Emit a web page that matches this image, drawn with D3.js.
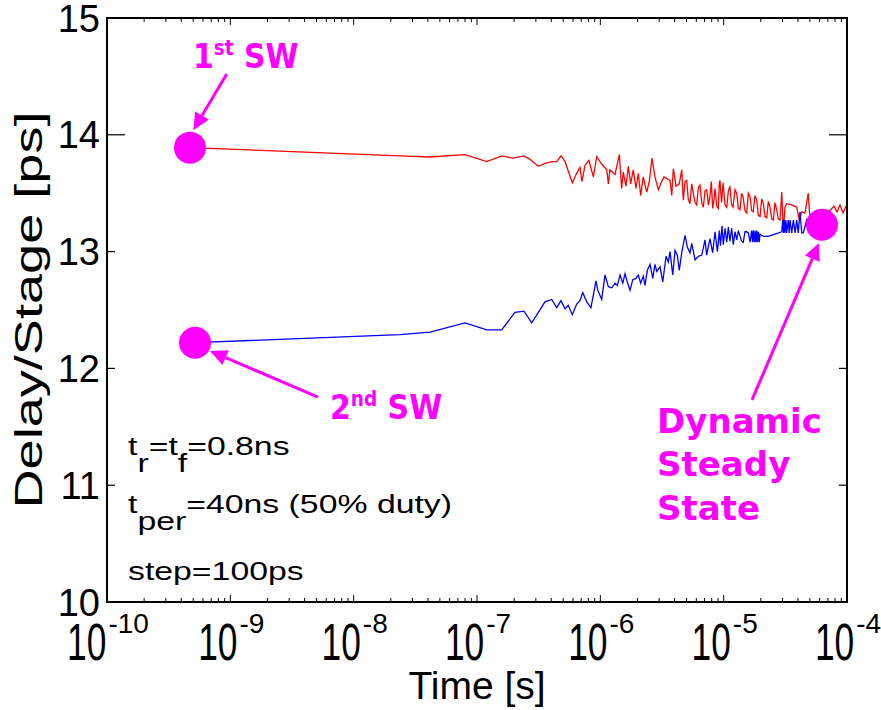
<!DOCTYPE html>
<html>
<head>
<meta charset="utf-8">
<script src="https://cdn.jsdelivr.net/npm/d3@7"></script>
<style>
  body { margin: 0; background: #fff; }
  svg { display: block; font-family: "Liberation Sans", Arial, sans-serif; }
</style>
</head>
<body>
<div id="chart"></div>
<script>
const width = 881, height = 710;
const plot = {left: 107, right: 847, top: 18, bottom: 602};

// x axis decades (log10 of time in s) and y ticks (ps)
const xDecades = [-10, -9, -8, -7, -6, -5, -4];
const yTicks = [10, 11, 12, 13, 14, 15];

// 1st switching event trace (red): log10(time), delay per stage
const redLogT = [-9.327, -7.624, -7.381, -7.097, -6.921, -6.800, -6.708, -6.619, -6.570, -6.505,
  -6.435, -6.394, -6.354, -6.319, -6.286, -6.227, -6.192, -6.165, -6.149, -6.124,
  -6.092, -6.057, -6.029, -5.989, -5.948, -5.935, -5.922, -5.881, -5.846, -5.827,
  -5.814, -5.792, -5.773, -5.754, -5.733, -5.711, -5.692, -5.673, -5.652, -5.624,
  -5.603, -5.581, -5.557, -5.530, -5.502, -5.484, -5.435, -5.421, -5.408, -5.386,
  -5.360, -5.340,
  -5.327, -5.313, -5.300, -5.287, -5.273, -5.259, -5.246, -5.232, -5.219, -5.205,
  -5.192, -5.178, -5.165, -5.151, -5.137, -5.124, -5.111, -5.100, -5.089, -5.078,
  -5.070, -5.056, -5.043, -5.036, -5.030, -5.017, -5.005, -4.989, -4.975, -4.962,
  -4.949, -4.936, -4.924, -4.908, -4.894, -4.881, -4.867, -4.855, -4.843, -4.827,
  -4.813, -4.800, -4.786, -4.773, -4.760, -4.746, -4.732, -4.719, -4.705, -4.692,
  -4.678, -4.665, -4.651, -4.638, -4.624, -4.610, -4.597, -4.584, -4.570, -4.557,
  -4.543, -4.529, -4.516, -4.503, -4.489, -4.448, -4.408, -4.387, -4.367, -4.341,
  -4.314, -4.300, -4.251, -4.203, -4.138, -4.106, -4.081, -4.057, -4.032, -4.008];
const redDelay = [13.89, 13.82, 13.81, 13.83, 13.77, 13.82, 13.80, 13.82, 13.79, 13.73,
  13.76, 13.77, 13.77, 13.82, 13.77, 13.59, 13.67, 13.72, 13.60, 13.74,
  13.78, 13.64, 13.81, 13.75, 13.70, 13.58, 13.70, 13.66, 13.83, 13.54,
  13.68, 13.56, 13.73, 13.58, 13.70, 13.54, 13.67, 13.48, 13.64, 13.51,
  13.60, 13.80, 13.64, 13.53, 13.60, 13.64, 13.61, 13.48, 13.71, 13.56,
  13.58, 13.70,
  13.44, 13.60, 13.61, 13.45, 13.41, 13.58, 13.50, 13.42, 13.40, 13.55,
  13.57, 13.42, 13.38, 13.52, 13.53, 13.40, 13.47, 13.60, 13.37, 13.45,
  13.54, 13.39, 13.37, 13.58, 13.61, 13.42, 13.59, 13.40, 13.38, 13.52,
  13.56, 13.40, 13.38, 13.53, 13.50, 13.37, 13.36, 13.50, 13.47, 13.35,
  13.33, 13.50, 13.47, 13.35, 13.34, 13.48, 13.44, 13.31, 13.30, 13.45,
  13.41, 13.30, 13.29, 13.43, 13.38, 13.28, 13.27, 13.42, 13.36, 13.28,
  13.27, 13.51, 13.17, 13.38, 13.41, 13.40, 13.38, 13.27, 13.34, 13.33,
  13.50, 13.27, 13.34, 13.32, 13.35, 13.39, 13.34, 13.40, 13.33, 13.39];

// 2nd switching event trace (blue)
const blueLogT = [-9.286, -7.624, -7.381, -7.097, -6.921, -6.800, -6.692, -6.619, -6.556, -6.449,
  -6.394, -6.354, -6.319, -6.286, -6.260, -6.227, -6.192, -6.165, -6.143, -6.110,
  -6.076, -6.035, -6.021, -5.989, -5.962, -5.935, -5.908, -5.881, -5.862, -5.840,
  -5.818, -5.800, -5.781, -5.759, -5.737, -5.711, -5.692, -5.673, -5.652, -5.638,
  -5.619, -5.597, -5.575, -5.557, -5.543, -5.516, -5.494, -5.467, -5.449, -5.435,
  -5.413, -5.394, -5.376, -5.360, -5.340, -5.313, -5.295, -5.273, -5.259, -5.232,
  -5.205, -5.178, -5.151, -5.138, -5.111, -5.089, -5.070, -5.051, -5.035,
  -5.026, -5.013, -5.003, -4.989, -4.975, -4.962, -4.949, -4.935, -4.922, -4.908,
  -4.894, -4.881, -4.867, -4.854, -4.841, -4.827, -4.813, -4.800, -4.786, -4.773,
  -4.766, -4.760, -4.752, -4.746, -4.739, -4.732, -4.726, -4.719, -4.712, -4.705,
  -4.678, -4.638, -4.584, -4.529, -4.521, -4.515, -4.508, -4.503, -4.495, -4.489,
  -4.476, -4.469, -4.462, -4.448, -4.435, -4.421, -4.408, -4.395, -4.381, -4.367,
  -4.354, -4.327, -4.300, -4.273, -4.246, -4.203];
const blueDelay = [12.22, 12.29, 12.31, 12.39, 12.33, 12.33, 12.48, 12.49, 12.39, 12.57,
  12.59, 12.52, 12.58, 12.51, 12.54, 12.46, 12.55, 12.58, 12.65, 12.57,
  12.52, 12.75, 12.67, 12.59, 12.80, 12.70, 12.69, 12.73, 12.71, 12.80,
  12.73, 12.81, 12.74, 12.67, 12.76, 12.77, 12.80, 12.73, 12.79, 12.71,
  12.84, 12.89, 12.77, 12.89, 12.83, 12.87, 12.74, 12.96, 12.91, 13.00,
  12.80, 13.01, 12.97, 12.84, 12.99, 13.14, 13.04, 12.99, 13.07, 12.93,
  12.96, 12.97, 13.10, 12.97, 13.11, 12.99, 13.17, 13.00, 13.18,
  13.05, 13.22, 13.06, 13.20, 13.08, 13.21, 13.09, 13.20, 13.06, 13.17,
  13.10, 13.18, 13.13, 13.09, 13.08, 13.17, 13.17, 13.16, 13.08, 13.18,
  13.08, 13.18, 13.08, 13.18, 13.08, 13.18, 13.08, 13.17, 13.08, 13.15,
  13.13, 13.13, 13.15, 13.17, 13.27, 13.16, 13.27, 13.16, 13.27, 13.16,
  13.27, 13.16, 13.27, 13.16, 13.27, 13.16, 13.27, 13.16, 13.34, 13.16,
  13.16, 13.27, 13.17, 13.26, 13.27, 13.23];

// highlighted points: 1st SW, 2nd SW, dynamic steady state
const markerLogT = [-9.327, -9.286, -4.203];
const markerDelay = [13.89, 12.22, 13.23];

// annotation arrows (data units): start -> tip
const arrowFromLogT = [-9.029, -8.289, -4.770];
const arrowFromDelay = [14.52, 11.755, 11.73];
const arrowToLogT = [-9.300, -9.165, -4.227];
const arrowToDelay = [14.04, 12.149, 13.074];

const svg = d3.select("#chart")
  .append("svg")
  .attr("width", width)
  .attr("height", height);

const x = d3.scaleLog().domain([1e-10, 1e-4]).range([plot.left, plot.right]);
const y = d3.scaleLinear().domain([10, 15]).range([plot.bottom, plot.top]);

// frame
svg.append("rect")
  .attr("x", plot.left).attr("y", plot.top)
  .attr("width", plot.right - plot.left).attr("height", plot.bottom - plot.top)
  .attr("fill", "none").attr("stroke", "#000").attr("stroke-width", 2);

// x ticks top & bottom, pointing in
const isMajor = t => Math.abs(Math.log10(t) - Math.round(Math.log10(t))) < 1e-6;
const xt = x.ticks();
svg.append("g").selectAll("line")
  .data(xt.concat(xt.map(t => -t)))
  .enter().append("line")
  .attr("x1", d => x(Math.abs(d))).attr("x2", d => x(Math.abs(d)))
  .attr("y1", d => d > 0 ? plot.bottom : plot.top)
  .attr("y2", d => {
    const len = isMajor(Math.abs(d)) ? 7 : 4;
    return d > 0 ? plot.bottom - len : plot.top + len;
  })
  .attr("stroke", "#000").attr("stroke-width", 1);

// y ticks left & right (the 14 ps tick is drawn longer in the original)
yTicks.forEach(v => {
  const len = v === 14 ? 18 : 8;
  [[plot.left, len], [plot.right, -len]].forEach(([x0, l]) => {
    svg.append("line")
      .attr("x1", x0).attr("x2", x0 + l)
      .attr("y1", y(v)).attr("y2", y(v))
      .attr("stroke", "#000").attr("stroke-width", 1.2);
  });
});

// y tick labels
svg.append("g").selectAll("text")
  .data(yTicks)
  .enter().append("text")
  .attr("x", plot.left - 7)
  .attr("y", d => y(d) + 13.5)
  .attr("text-anchor", "end")
  .attr("font-size", 38)
  .text(d => d);

// x tick labels: 10^n with tall base
xDecades.forEach(p => {
  const g = svg.append("g").attr("transform", `translate(${x(Math.pow(10, p))},0)`);
  const base = g.append("text").attr("font-size", 52).text("10");
  const ex = g.append("text").attr("font-size", 28).attr("y", 633).text(p);
  const bw = base.node().getComputedTextLength() * 0.68;
  const ew = ex.node().getComputedTextLength();
  const x0 = -(bw + ew) / 2;
  base.attr("transform", `translate(${x0},660) scale(0.68,1)`);
  ex.attr("x", x0 + bw + 2);
});

// axis titles
svg.append("text")
  .attr("x", (plot.left + plot.right) / 2).attr("y", 699)
  .attr("text-anchor", "middle")
  .attr("font-size", 39)
  .text("Time [s]");

svg.append("text")
  .attr("transform", `translate(42,${(plot.top + plot.bottom) / 2}) rotate(-90)`)
  .attr("text-anchor", "middle")
  .attr("font-size", 39)
  .attr("textLength", 397)
  .attr("lengthAdjust", "spacingAndGlyphs")
  .text("Delay/Stage [ps]");

// traces
const line = d3.line()
  .x(d => x(Math.pow(10, d[0])))
  .y(d => y(d[1]));

svg.append("path")
  .datum(d3.zip(redLogT, redDelay))
  .attr("d", line)
  .attr("fill", "none").attr("stroke", "#ff0000").attr("stroke-width", 1.3);

svg.append("path")
  .datum(d3.zip(blueLogT, blueDelay))
  .attr("d", line)
  .attr("fill", "none").attr("stroke", "#0000ff").attr("stroke-width", 1.3);

// markers
svg.append("g").selectAll("circle")
  .data(d3.zip(markerLogT, markerDelay))
  .enter().append("circle")
  .attr("cx", d => x(Math.pow(10, d[0])))
  .attr("cy", d => y(d[1]))
  .attr("r", 16)
  .attr("fill", "#ff00ff");

// arrows
const magenta = "#ff00ff";
d3.range(arrowFromLogT.length).forEach(i => {
  const x1 = x(Math.pow(10, arrowFromLogT[i])), y1 = y(arrowFromDelay[i]);
  const x2 = x(Math.pow(10, arrowToLogT[i])), y2 = y(arrowToDelay[i]);
  const ang = Math.atan2(y2 - y1, x2 - x1);
  const hl = 17, hw = 8;
  const bx = x2 - hl * Math.cos(ang), by = y2 - hl * Math.sin(ang);
  svg.append("line")
    .attr("x1", x1).attr("y1", y1).attr("x2", bx).attr("y2", by)
    .attr("stroke", magenta).attr("stroke-width", 3);
  svg.append("path")
    .attr("d", `M${x2},${y2}L${bx + hw * Math.sin(ang)},${by - hw * Math.cos(ang)}L${bx - hw * Math.sin(ang)},${by + hw * Math.cos(ang)}Z`)
    .attr("fill", magenta);
});

// magenta labels
const lab = svg.append("g")
  .attr("fill", magenta)
  .attr("font-family", "'DejaVu Sans', Verdana, sans-serif")
  .attr("font-weight", "bold");

function swLabel(lt, v, num, sup) {
  const t = lab.append("text")
    .attr("transform", `translate(${x(Math.pow(10, lt))},${y(v)}) scale(0.88,1)`)
    .attr("font-size", 34);
  t.append("tspan").text(num);
  t.append("tspan").attr("font-size", 21).attr("dy", -13).text(sup);
  t.append("tspan").attr("dy", 13).text(" SW");
}
swLabel(-9.303, 14.57, "1", "st");
swLabel(-8.192, 11.567, "2", "nd");

["Dynamic", "Steady", "State"].forEach((s, i) => {
  lab.append("text")
    .attr("x", x(Math.pow(10, -5.54)))
    .attr("y", y(11.447) + i * 43.5)
    .attr("font-size", 34)
    .text(s);
});

// simulation settings text
const note = svg.append("g").attr("font-size", 26);
function noteLine(yy, parts) {
  const t = note.append("text")
    .attr("transform", `translate(${plot.left + 21},${yy}) scale(1.3,1)`);
  parts.forEach(([s, sub]) => {
    t.append("tspan").attr("dy", sub).text(s);
  });
}
noteLine(455, [["t", 0], ["r", 17], ["=t", -17], ["f", 17], ["=0.8ns", -17]]);
noteLine(513, [["t", 0], ["per", 17], ["=40ns (50% duty)", -17]]);
noteLine(580, [["step=100ps", 0]]);
</script>
</body>
</html>
